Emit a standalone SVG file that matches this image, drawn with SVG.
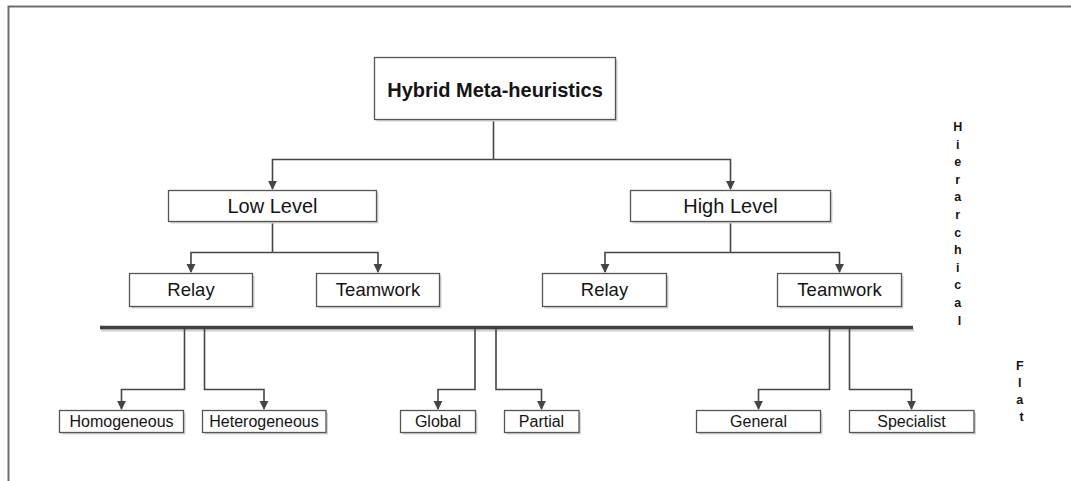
<svg xmlns="http://www.w3.org/2000/svg" width="1071" height="481" viewBox="0 0 1071 481">
  <style>
    .box { fill: #ffffff; stroke: #555555; stroke-width: 1.3; }
    .shadow { fill: #d4d4d4; }
    .conn { fill: none; stroke: #454545; stroke-width: 1.6; }
    .bar { fill: none; stroke: #404040; stroke-width: 3.5; }
    .barshadow { fill: none; stroke: #cfcfcf; stroke-width: 3; }
    .lbl { font-family: "Liberation Sans", Arial, sans-serif; fill: #141414; text-anchor: middle; }
    .title { font-size: 20px; font-weight: bold; }
    .lvl { font-size: 20px; }
    .mid { font-size: 18.5px; }
    .leaf { font-size: 16px; }
    .side { font-family: "Liberation Sans", Arial, sans-serif; font-size: 12.5px; font-weight: bold; fill: #141414; text-anchor: middle; }
  </style>
  <defs>
    <marker id="arrow" viewBox="0 0 10 10" refX="9" refY="5" markerWidth="9" markerHeight="10" markerUnits="userSpaceOnUse" orient="auto">
      <path d="M0,0 L10,5 L0,10 z" fill="#454545"/>
    </marker>
  </defs>

  <rect x="0" y="0" width="1071" height="481" fill="#ffffff"/>
  <!-- outer frame -->
  <rect x="8.5" y="6.5" width="1100" height="500" fill="none" stroke="#6e6e6e" stroke-width="2"/>

  <!-- connectors -->
  <g id="connectors">
    <path class="conn" d="M493.5 119.5 V159.5"/>
    <path class="conn" d="M493.5 159.5 H272.5 V189" marker-end="url(#arrow)"/>
    <path class="conn" d="M493.5 159.5 H730.5 V189" marker-end="url(#arrow)"/>

    <path class="conn" d="M272.5 221.5 V252.5"/>
    <path class="conn" d="M272.5 252.5 H191 V272" marker-end="url(#arrow)"/>
    <path class="conn" d="M272.5 252.5 H378 V272" marker-end="url(#arrow)"/>

    <path class="conn" d="M730.5 221.5 V252.5"/>
    <path class="conn" d="M730.5 252.5 H605 V272" marker-end="url(#arrow)"/>
    <path class="conn" d="M730.5 252.5 H839.5 V272" marker-end="url(#arrow)"/>

    <path class="barshadow" d="M101 330 H914"/>
    <path class="bar" d="M100 327.5 H913"/>

    <path class="conn" d="M184.5 329 V389.5 H121.5 V409" marker-end="url(#arrow)"/>
    <path class="conn" d="M204.5 329 V389.5 H264 V409" marker-end="url(#arrow)"/>
    <path class="conn" d="M475 329 V389.5 H438 V409" marker-end="url(#arrow)"/>
    <path class="conn" d="M496 329 V389.5 H541.5 V409" marker-end="url(#arrow)"/>
    <path class="conn" d="M829.5 329 V389.5 H758.5 V409" marker-end="url(#arrow)"/>
    <path class="conn" d="M849.5 329 V389.5 H911.5 V409" marker-end="url(#arrow)"/>
  </g>

  <!-- root -->
  <g id="node-hybrid">
    <rect class="shadow" x="376.5" y="59.5" width="241" height="62"/>
    <rect class="box" x="374.5" y="57.5" width="241" height="62"/>
    <text class="lbl title" x="495" y="97">Hybrid Meta-heuristics</text>
  </g>

  <!-- level nodes -->
  <g id="node-low-level">
    <rect class="shadow" x="170.5" y="192.5" width="208" height="31"/>
    <rect class="box" x="168.5" y="190.5" width="208" height="31"/>
    <text class="lbl lvl" x="272.5" y="213">Low Level</text>
  </g>
  <g id="node-high-level">
    <rect class="shadow" x="632.5" y="192.5" width="200" height="31"/>
    <rect class="box" x="630.5" y="190.5" width="200" height="31"/>
    <text class="lbl lvl" x="730.5" y="213">High Level</text>
  </g>

  <!-- second tier -->
  <g id="node-low-relay">
    <rect class="shadow" x="131.5" y="275.5" width="123" height="33"/>
    <rect class="box" x="129.5" y="273.5" width="123" height="33"/>
    <text class="lbl mid" x="191" y="296">Relay</text>
  </g>
  <g id="node-low-teamwork">
    <rect class="shadow" x="318.5" y="275.5" width="123" height="33"/>
    <rect class="box" x="316.5" y="273.5" width="123" height="33"/>
    <text class="lbl mid" x="378" y="296">Teamwork</text>
  </g>
  <g id="node-high-relay">
    <rect class="shadow" x="544.5" y="275.5" width="124" height="33"/>
    <rect class="box" x="542.5" y="273.5" width="124" height="33"/>
    <text class="lbl mid" x="604.5" y="296">Relay</text>
  </g>
  <g id="node-high-teamwork">
    <rect class="shadow" x="779.5" y="275.5" width="124" height="33"/>
    <rect class="box" x="777.5" y="273.5" width="124" height="33"/>
    <text class="lbl mid" x="839.5" y="296">Teamwork</text>
  </g>

  <!-- flat tier leaves -->
  <g id="node-homogeneous">
    <rect class="shadow" x="61.5" y="412.5" width="124" height="22"/>
    <rect class="box" x="59.5" y="410.5" width="124" height="22"/>
    <text class="lbl leaf" x="121.5" y="427">Homogeneous</text>
  </g>
  <g id="node-heterogeneous">
    <rect class="shadow" x="204.5" y="412.5" width="123.5" height="22"/>
    <rect class="box" x="202.5" y="410.5" width="123.5" height="22"/>
    <text class="lbl leaf" x="264" y="427">Heterogeneous</text>
  </g>
  <g id="node-global">
    <rect class="shadow" x="402.5" y="412.5" width="75" height="22"/>
    <rect class="box" x="400.5" y="410.5" width="75" height="22"/>
    <text class="lbl leaf" x="438" y="427">Global</text>
  </g>
  <g id="node-partial">
    <rect class="shadow" x="506.5" y="412.5" width="74.5" height="22"/>
    <rect class="box" x="504.5" y="410.5" width="74.5" height="22"/>
    <text class="lbl leaf" x="541.5" y="427">Partial</text>
  </g>
  <g id="node-general">
    <rect class="shadow" x="698.5" y="412.5" width="124" height="22"/>
    <rect class="box" x="696.5" y="410.5" width="124" height="22"/>
    <text class="lbl leaf" x="758.5" y="427">General</text>
  </g>
  <g id="node-specialist">
    <rect class="shadow" x="851.5" y="412.5" width="124.5" height="22"/>
    <rect class="box" x="849.5" y="410.5" width="124.5" height="22"/>
    <text class="lbl leaf" x="911.5" y="427">Specialist</text>
  </g>

  <!-- vertical side labels -->
  <g id="label-hierarchical">
    <text class="side">
      <tspan x="959.5" y="131">H</tspan>
      <tspan x="959.5" y="148.6">i</tspan>
      <tspan x="959.5" y="166.2">e</tspan>
      <tspan x="959.5" y="183.8">r</tspan>
      <tspan x="959.5" y="201.4">a</tspan>
      <tspan x="959.5" y="219">r</tspan>
      <tspan x="959.5" y="236.6">c</tspan>
      <tspan x="959.5" y="254.2">h</tspan>
      <tspan x="959.5" y="271.8">i</tspan>
      <tspan x="959.5" y="289.4">c</tspan>
      <tspan x="959.5" y="307">a</tspan>
      <tspan x="959.5" y="324.6">l</tspan>
    </text>
  </g>
  <g id="label-flat">
    <text class="side">
      <tspan x="1021.5" y="369.5">F</tspan>
      <tspan x="1021.5" y="386.5">l</tspan>
      <tspan x="1021.5" y="403.5">a</tspan>
      <tspan x="1021.5" y="420.5">t</tspan>
    </text>
  </g>
</svg>
